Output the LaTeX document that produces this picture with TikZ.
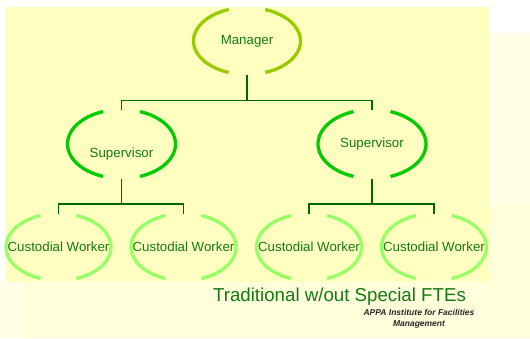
\documentclass[tikz,border=0pt]{standalone}
\usepackage{fontspec}
\setmainfont{Liberation Sans}
\usetikzlibrary{shapes.geometric}

\definecolor{paper}{HTML}{FFFFC0}
\definecolor{paleA}{HTML}{FFFFE8}
\definecolor{paleB}{HTML}{FFFFDC}
\definecolor{mgrgreen}{HTML}{99CC00}
\definecolor{supgreen}{HTML}{00CC00}
\definecolor{wrkgreen}{HTML}{99FF66}
\definecolor{linegreen}{HTML}{006600}
\definecolor{textgreen}{RGB}{20,120,20}

\begin{document}
\begin{tikzpicture}[
    x=1pt, y=-1pt,
    role/.style={ellipse, inner sep=0pt, outer sep=0pt, text=textgreen, font=\fontsize{13.3}{15}\selectfont},
    manager/.style={role, minimum width=107pt, minimum height=67pt},
    supervisor/.style={role, minimum width=108pt, minimum height=69pt},
    worker/.style={role, minimum width=105pt, minimum height=67pt},
    link/.style={draw=linegreen, line width=1.6pt},
    bracket/.style={line width=3.3pt}
]
    % Background
    \useasboundingbox (0,0) rectangle (530,338);
    \fill[paleA] (489,33) rectangle (530,205);
    \fill[paleB] (489,205) rectangle (530,338);
    \fill[paleA] (0,282) rectangle (23,338);
    \fill[paleB] (23,282) rectangle (489,338);
    \fill[paper] (5,7) rectangle (489,282);

    % Nodes
    \node[manager] (mgr) at (247,41) {Manager};
    \node[supervisor, label={[role, yshift=-10pt]center:Supervisor}] (supL) at (121.5,144) {};
    \node[supervisor] (supR) at (372,144) {Supervisor};
    \node[worker] (wrk1) at (58.5,247) {Custodial Worker};
    \node[worker] (wrk2) at (183.5,247) {Custodial Worker};
    \node[worker] (wrk3) at (309,247) {Custodial Worker};
    \node[worker] (wrk4) at (434,247) {Custodial Worker};

    % Brackets
    \foreach \n/\rx/\ry/\c in {mgr/53.5/33.5/mgrgreen, supL/54/34.5/supgreen, supR/54/34.5/supgreen,
        wrk1/52.5/33.5/wrkgreen, wrk2/52.5/33.5/wrkgreen, wrk3/52.5/33.5/wrkgreen, wrk4/52.5/33.5/wrkgreen}{
        \draw[bracket, \c] (\n.center) ++(110:\rx pt and \ry pt) arc[start angle=110, end angle=250, x radius=\rx pt, y radius=\ry pt];
        \draw[bracket, \c] (\n.center) ++(-70:\rx pt and \ry pt) arc[start angle=-70, end angle=70, x radius=\rx pt, y radius=\ry pt];
    }

    % Connections
    \draw[link] (mgr.south) -- ++(0,26) coordinate (mbus);
    \draw[link] (supL.north) |- (mbus) -| (supR.north);
    \draw[link] (supL.south) -- ++(0,25.5) coordinate (lbus);
    \draw[link] (wrk1.north) |- (lbus) -| (wrk2.north);
    \draw[link] (supR.south) -- ++(0,25.5) coordinate (rbus);
    \draw[link] (wrk3.north) |- (rbus) -| (wrk4.north);

    % Labels
    \node[font=\fontsize{18.7}{22}\selectfont, text=textgreen] (title) at (339.5,297) {Traditional w/out Special FTEs};
    \node[font=\bfseries\itshape\fontsize{8.5}{11}\selectfont, align=center, text=black!85] (credit) at (419,318.5) {APPA Institute for Facilities\\Management};
\end{tikzpicture}
\end{document}
